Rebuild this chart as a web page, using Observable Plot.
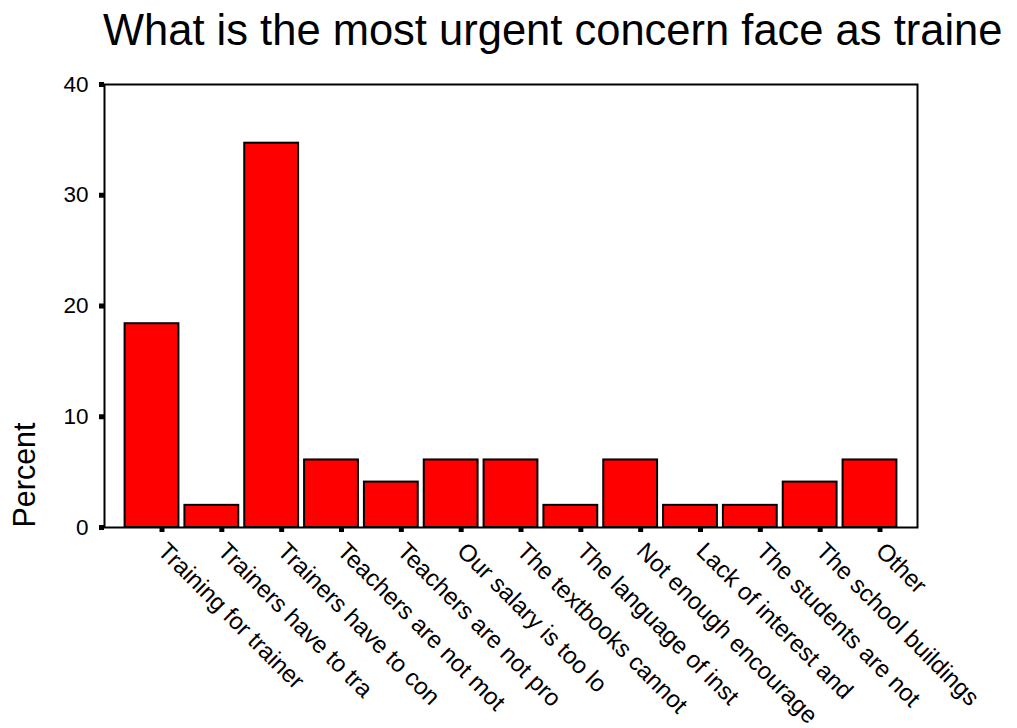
<!DOCTYPE html>
<html>
<head>
<meta charset="utf-8">
<script src="https://cdn.jsdelivr.net/npm/d3@7"></script>
<script src="https://cdn.jsdelivr.net/npm/@observablehq/plot@0.6"></script>
<style>
  html, body { margin: 0; padding: 0; background: #fff; }
  #wrap { position: relative; width: 1017px; height: 728px; overflow: hidden; font-family: "Liberation Sans", Arial, sans-serif; color: #000; }
  #title { position: absolute; left: 103px; top: 9px; font-size: 43.5px; line-height: 1; white-space: nowrap; }
  #ylab { position: absolute; left: 24px; top: 474.5px; font-size: 30.5px; line-height: 1; white-space: nowrap; transform: translate(-50%, -50%) rotate(-90deg); }
  #chart { position: absolute; left: 0; top: 0; }
</style>
</head>
<body>
<div id="wrap">
  <div id="chart"></div>
  <div id="title">What is the most urgent concern face as traine</div>
  <div id="ylab">Percent</div>
</div>
<script>
const categories = [
  "Training for trainer",
  "Trainers have to tra",
  "Trainers have to con",
  "Teachers are not mot",
  "Teachers are not pro",
  "Our salary is too lo",
  "The textbooks cannot",
  "The language of inst",
  "Not enough encourage",
  "Lack of interest and",
  "The students are not",
  "The school buildings",
  "Other"
];
const percents = [18.4, 2.0, 34.7, 6.1, 4.1, 6.1, 6.1, 2.0, 6.1, 2.0, 2.0, 4.1, 6.1];
const yTicks = [0, 10, 20, 30, 40];

const data = categories.map((c, i) => ({category: c, percent: percents[i]}));

const chart = Plot.plot({
  width: 1017,
  height: 728,
  marginTop: 84,
  marginLeft: 104,
  marginRight: 100,
  marginBottom: 201,
  style: {fontFamily: '"Liberation Sans", Arial, sans-serif', fontSize: "22px", color: "#000", background: "#fff"},
  x: {type: "band", domain: categories, paddingInner: 0, paddingOuter: 0.294, round: false},
  y: {domain: [0, 40]},
  marks: [
    Plot.barY(data, {x: "category", y: "percent", fill: "#ff0000", stroke: "#000", strokeWidth: 2, insetLeft: 3, insetRight: 3}),
    Plot.axisY({ticks: yTicks, tickSize: 5, tickPadding: 11, strokeWidth: 5, label: null, fontSize: 22.5}),
    Plot.axisX({tickSize: 5, tickPadding: 14.5, tickRotate: 45, strokeWidth: 5, label: null, fontSize: 24, dx: 10}),
    Plot.frame({stroke: "#000", strokeWidth: 2})
  ]
});
document.getElementById("chart").appendChild(chart);
</script>
</body>
</html>
